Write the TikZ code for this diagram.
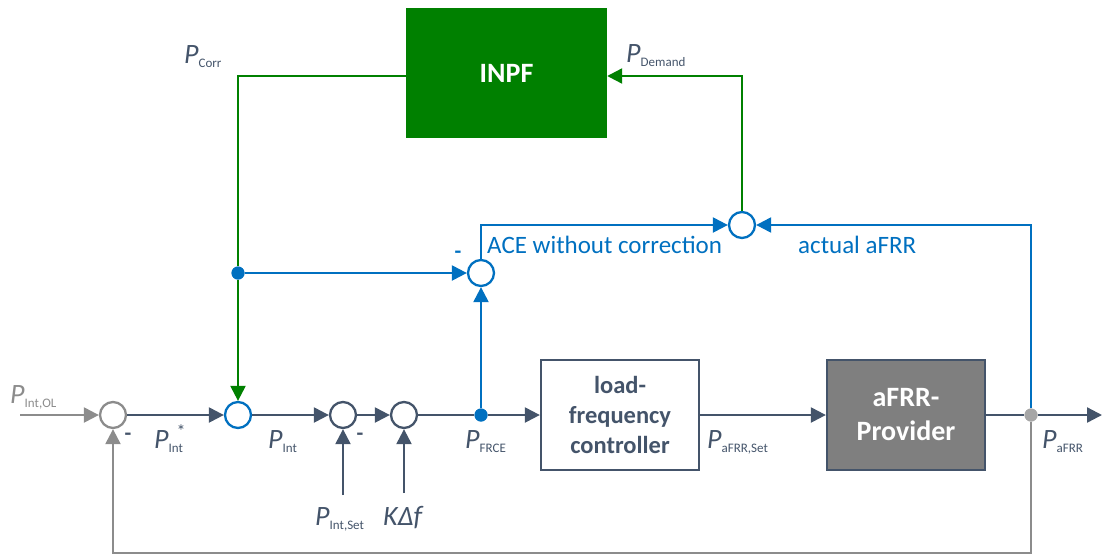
\documentclass[tikz,border=0pt]{standalone}
\usepackage{fontspec}
\setmainfont{Carlito}
\usetikzlibrary{arrows.meta}
\definecolor{slate}{RGB}{68,84,106}
\definecolor{myblue}{RGB}{0,112,192}
\definecolor{mygreen}{RGB}{0,128,0}
\definecolor{mygrey}{RGB}{140,140,140}
\definecolor{dotgrey}{RGB}{166,166,166}
\definecolor{boxgrey}{RGB}{127,127,127}
\newcommand{\Psub}[1]{{\fontsize{28}{28}\selectfont\itshape P}\raisebox{-4pt}{\fontsize{13}{13}\selectfont #1}}
\begin{document}
\begin{tikzpicture}[x=1pt,y=-1pt,
  sumc/.style={circle, minimum size=26pt, inner sep=0pt, line width=2.3pt, fill=white},
  dotc/.style={circle, minimum size=13pt, inner sep=0pt},
  line/.style={line width=2.3pt},
  arr/.style={line width=2.3pt, -{Triangle[length=15pt,width=15pt]}},
  blk/.style={rectangle, minimum width=158pt, minimum height=110pt, line width=2.3pt, align=center, font=\fontsize{24.5}{30}\selectfont\bfseries},
  lbl/.style={anchor=base west, inner sep=0pt, text=slate},
  minus/.style={inner sep=0pt, font=\fontsize{22}{22}\selectfont\bfseries}
]
\useasboundingbox (0,0) rectangle (1102,555);

% summing junctions
\node[sumc, draw=mygrey] (s1) at (113,415) {};
\node[sumc, draw=myblue] (s2) at (238,415) {};
\node[sumc, draw=slate] (s3) at (343,415) {};
\node[sumc, draw=slate] (s4) at (404,415) {};
\node[sumc, draw=myblue] (s5) at (481,273) {};
\node[sumc, draw=myblue] (s6) at (742,225) {};

% blocks
\node[blk, draw=slate, fill=white, text=slate] (lfc) at (620,415) {load-\\frequency\\controller};
\node[blk, draw=slate, fill=boxgrey, text=white, font=\fontsize{28}{34}\selectfont\bfseries] (prov) at (906,415) {aFRR-\\Provider};
\node[rectangle, minimum width=201pt, minimum height=130pt, fill=mygreen, text=white, font=\fontsize{28}{28}\selectfont\bfseries] (inpf) at (506.5,73) {INPF};

% coordinates
\coordinate (in) at (20,415);
\coordinate (out) at (1102,415);
\coordinate (pset) at (343,495);
\coordinate (kdf) at (404,493);
\coordinate (bl) at (113,553);
\coordinate (br) at (1031,553);
\coordinate (corrc) at (238,76);
\coordinate (demc) at (742,76);
\coordinate (acec) at (481,225);
\coordinate (afrrc) at (1031,225);

% main forward path
\draw[arr, mygrey] (in) -- (s1);
\draw[arr, slate] (s1) -- (s2);
\draw[arr, slate] (s2) -- (s3);
\draw[arr, slate] (s3) -- (s4);
\node[dotc, fill=myblue] (d1) at (481,415) {};
\node[dotc, fill=dotgrey] (d3) at (1031,415) {};
\draw[line, slate] (s4) -- (d1);
\draw[arr, slate] (d1) -- (lfc);
\draw[arr, slate] (lfc) -- (prov);
\draw[line, slate] (prov) -- (d3);
\draw[arr, slate] (d3) -- (out);
\draw[arr, slate] (pset) -- (s3);
\draw[arr, slate] (kdf) -- (s4);

% feedback grey
\draw[arr, mygrey] (d3) -- (br) -- (bl) -- (s1);

% green correction path
\node[dotc, fill=myblue] (d2) at (238,273) {};
\draw[line, mygreen] (inpf.west |- corrc) -- (corrc) -- (d2);
\draw[arr, mygreen] (d2) -- (s2);
\node[dotc, fill=myblue] at (d2) {};

% blue paths
\draw[arr, myblue] (d2) -- (s5);
\draw[arr, myblue] (d1) -- (s5);
\draw[arr, myblue] (s5) -- (acec) -- (s6);
\draw[arr, myblue] (d3) -- (afrrc) -- (s6);
\node[dotc, fill=myblue] at (d1) {};
\node[dotc, fill=dotgrey] at (d3) {};
\draw[arr, mygreen] (s6) -- (demc) -- (inpf.east |- demc);

% labels
\node[lbl, text=mygrey] (lin) at (10,403) {\Psub{Int,OL}};
\node[lbl] (lstar) at (154,448) {\Psub{Int}};
\node[inner sep=0pt, text=slate, font=\fontsize{18}{18}\selectfont] (star) at (181,431) {*};
\node[lbl] (lint) at (268,448) {\Psub{Int}};
\node[lbl] (lfrce) at (465,448) {\Psub{FRCE}};
\node[lbl] (lpset) at (315,525) {\Psub{Int,Set}};
\node[lbl, font=\fontsize{28}{28}\selectfont\itshape] (lkdf) at (383,525) {KΔf};
\node[lbl] (lset) at (707,448) {\Psub{aFRR,Set}};
\node[lbl] (lafrr) at (1042,448) {\Psub{aFRR}};
\node[lbl] (lcorr) at (184,63) {\Psub{Corr}};
\node[lbl] (ldem) at (626,62) {\Psub{Demand}};
\node[lbl, text=myblue, font=\fontsize{25}{25}\selectfont] (lace) at (487,253) {ACE without correction};
\node[lbl, text=myblue, font=\fontsize{25}{25}\selectfont] (lact) at (798,253) {actual aFRR};

% minus signs
\node[minus, text=slate] (m1) at (128,437) {-};
\node[minus, text=slate] (m3) at (360,437) {-};
\node[minus, text=myblue] (m5) at (458,255) {-};
\end{tikzpicture}
\end{document}
